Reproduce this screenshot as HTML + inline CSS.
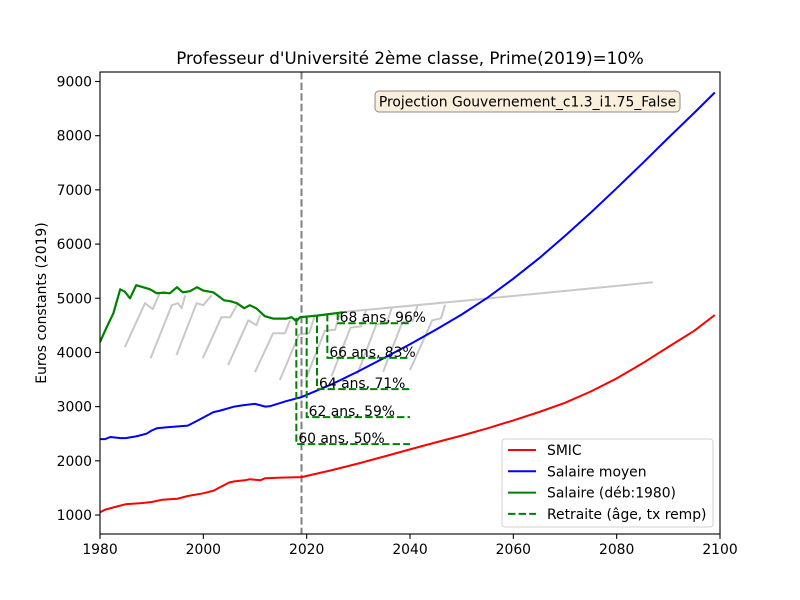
<!DOCTYPE html>
<html><head><meta charset="utf-8"><style>
html,body{margin:0;padding:0;background:#fff;}
svg{display:block;font-family:"DejaVu Sans","Liberation Sans",sans-serif;}
</style></head><body>
<svg id="chart" width="800" height="600" viewBox="0 0 800 600">
<rect x="0" y="0" width="800" height="600" fill="#fff"/>
<g id="plot"></g>
</svg>
<script>
const xTicks=[1980,2000,2020,2040,2060,2080,2100];
const yTicks=[1000,2000,3000,4000,5000,6000,7000,8000,9000];
const smicYears=[1980,1981,1983,1985,1988,1990,1992,1995,1997,2000,2002,2003,2005,2006,2008,2009,2011,2012,2015,2019,2025,2030,2035,2040,2045,2050,2055,2060,2065,2070,2075,2080,2085,2090,2095,2099];
const smicVals=[1050,1100,1150,1200,1220,1240,1280,1300,1350,1400,1450,1500,1600,1620,1640,1660,1640,1680,1690,1700,1830,1950,2080,2210,2340,2465,2600,2745,2900,3070,3280,3520,3800,4100,4400,4690];
const salYears=[1980,1981,1982,1984,1985,1987,1989,1990,1991,1993,1997,1999,2002,2003,2006,2008,2010,2012,2013,2016,2019,2025,2030,2035,2040,2045,2050,2055,2060,2065,2070,2075,2080,2085,2090,2095,2099];
const salVals=[2400,2400,2440,2420,2420,2450,2500,2560,2600,2620,2650,2750,2900,2920,3000,3030,3050,3000,3010,3100,3175,3420,3650,3900,4150,4420,4700,5010,5360,5740,6150,6580,7030,7490,7960,8420,8797];
const careerYears=[1980,1981.3,1982.6,1983.9,1984.8,1985.8,1987,1989.7,1991,1992.3,1993.5,1994.9,1996,1997.4,1998.8,2000,2001.9,2004,2005.2,2006.5,2007.9,2009,2010.3,2011.9,2013.5,2016.1,2017.1,2018,2018.7,2022,2027];
const careerVals=[4190,4466,4724,5166,5120,5000,5240,5166,5092,5104,5092,5203,5110,5130,5203,5141,5110,4963,4945,4908,4816,4871,4810,4668,4625,4625,4650,4576,4650,4680,4740];
const envYears=[2026.5,2053.5,2087];
const envVals=[4742,4980,5295];
const graySegs=[
 [[1984.8,4097],[1988.7,4908],[1990.2,4800],[1991.5,5080]],
 [[1989.8,3894],[1993.9,4871],[1995.1,4908],[1995.8,4816],[1996.5,5055]],
 [[1994.8,3950],[1998.7,4908],[2000,4871],[2001.6,5055]],
 [[1999.9,3894],[2003.5,4650],[2005.2,4650],[2006.7,4908]],
 [[2004.8,3765],[2008.7,4594],[2010.3,4502],[2011,4687]],
 [[2010,3636],[2013.5,4355],[2015.8,4355],[2016.8,4594]],
 [[2014.8,3488],[2018.5,4330],[2020.5,4360],[2021.5,4650]],
 [[2019.8,3500],[2023.5,4400],[2025.5,4420],[2026.5,4740]],
 [[2024.8,3560],[2028.5,4460],[2030.5,4480],[2031.5,4785]],
 [[2029.8,3600],[2033.5,4520],[2035.5,4540],[2036.5,4830]],
 [[2034.8,3640],[2038.5,4560],[2040.5,4580],[2041.5,4875]],
 [[2040,3673],[2044.3,4594],[2046,4630],[2046.8,4880]]
];
const retAges=["60 ans, 50%","62 ans, 59%","64 ans, 71%","66 ans, 83%","68 ans, 96%"];
const retYears=[2018,2020,2022,2024,2026];
const retTop=[4640,4660,4690,4710,4735];
const retVals=[2309,2806,3322,3900,4539];
const retEnd=2040;
const refYear=2019;

const L=100,R=720,T=72,B=534;
const xMin=1980,xMax=2100;
const yA=1000,pA=515,yB=9000,pB=81.5;
const sx=v=>L+(v-xMin)/(xMax-xMin)*(R-L);
const sy=v=>pA+(v-yA)*(pB-pA)/(yB-yA);
const NS="http://www.w3.org/2000/svg";
const plot=document.getElementById('plot');
function mk(tag,attrs,parent){const e=document.createElementNS(NS,tag);for(const k in attrs)e.setAttribute(k,attrs[k]);(parent||plot).appendChild(e);return e;}
function pts(xs,ys){return xs.map((x,i)=>sx(x).toFixed(1)+','+sy(ys[i]).toFixed(1)).join(' ');}

const clip=mk('clipPath',{id:'clip'});mk('rect',{x:L,y:T,width:R-L,height:B-T},clip);
const g=mk('g',{'clip-path':'url(#clip)','stroke-linejoin':'round'});



graySegs.forEach((s,i)=>{
 const p=mk('polyline',{points:s.map(q=>sx(q[0]).toFixed(1)+','+sy(q[1]).toFixed(1)).join(' '),fill:'none',stroke:'#c8c8c8','stroke-width':2},g);
 
 
});
const env=mk('polyline',{points:pts(envYears,envVals),fill:'none',stroke:'#c8c8c8','stroke-width':2},g);



const vref=mk('line',{x1:sx(refYear),x2:sx(refYear),y1:T,y2:B,stroke:'#808080','stroke-width':2,'stroke-dasharray':'7.4,3.2'},g);



const smic=mk('polyline',{points:pts(smicYears,smicVals),fill:'none',stroke:'#ff0000','stroke-width':2},g);


const sal=mk('polyline',{points:pts(salYears,salVals),fill:'none',stroke:'#0000ff','stroke-width':2},g);


const car=mk('polyline',{points:pts(careerYears,careerVals),fill:'none',stroke:'#008000','stroke-width':2.2},g);



retYears.forEach((y,i)=>{
 const v=mk('polyline',{points:sx(y)+','+sy(retTop[i])+' '+sx(y)+','+sy(retVals[i])+' '+sx(retEnd)+','+sy(retVals[i]),fill:'none',stroke:'#008000','stroke-width':2,'stroke-dasharray':'7.4,3.2'},g);
 
 
 const t=mk('text',{x:sx(y)+2,y:sy(retVals[i])-1,'font-size':13.9,fill:'#000'},g);
 t.textContent=retAges[i];
 
 
});

const frame=mk('rect',{x:L,y:T,width:R-L,height:B-T,fill:'none',stroke:'#000','stroke-width':1.1});



xTicks.forEach(v=>{
 mk('line',{x1:sx(v),x2:sx(v),y1:B,y2:B+4.9,stroke:'#000','stroke-width':1.1});
 const t=mk('text',{x:sx(v),y:B+20,'font-size':13.9,'text-anchor':'middle'});
 t.textContent=v;
 
 
});
yTicks.forEach(v=>{
 mk('line',{x1:L-4.9,x2:L,y1:sy(v),y2:sy(v),stroke:'#000','stroke-width':1.1});
 const t=mk('text',{x:L-8,y:sy(v)+5,'font-size':13.9,'text-anchor':'end'});
 t.textContent=v;
 
 
});

const title=mk('text',{x:410,y:64,'font-size':16.7,'text-anchor':'middle'});
title.textContent="Professeur d'Université 2ème classe, Prime(2019)=10%";



const yl=mk('text',{x:0,y:0,'font-size':13.9,'text-anchor':'middle',transform:'translate(46,303) rotate(-90)'});
yl.textContent="Euros constants (2019)";



const ab=mk('rect',{x:375,y:91,width:305,height:21,rx:4,fill:'#f9efdb',stroke:'#8a8a8a','stroke-width':1});


const at=mk('text',{x:527.5,y:106.5,'font-size':13.9,'text-anchor':'middle'});
at.textContent="Projection Gouvernement_c1.3_i1.75_False";



const lg=mk('g',{});


mk('rect',{x:502,y:439,width:211,height:88,rx:3,fill:'#fff','fill-opacity':0.8,stroke:'#d0d0d0','stroke-width':1},lg);
const legNames=["SMIC","Salaire moyen","Salaire (déb:1980)","Retraite (âge, tx remp)"];
const legColors=["#ff0000","#0000ff","#008000","#008000"];
legNames.forEach((n,i)=>{
 const yy=450+i*21.3;
 const ln=mk('line',{x1:508,x2:536,y1:yy,y2:yy,stroke:legColors[i],'stroke-width':2},lg);
 if(i===3)ln.setAttribute('stroke-dasharray','7.4,3.2');
 
 
 const t=mk('text',{x:547,y:yy+5,'font-size':13.9},lg);
 t.textContent=n;
 
 
});
</script>
</body></html>
